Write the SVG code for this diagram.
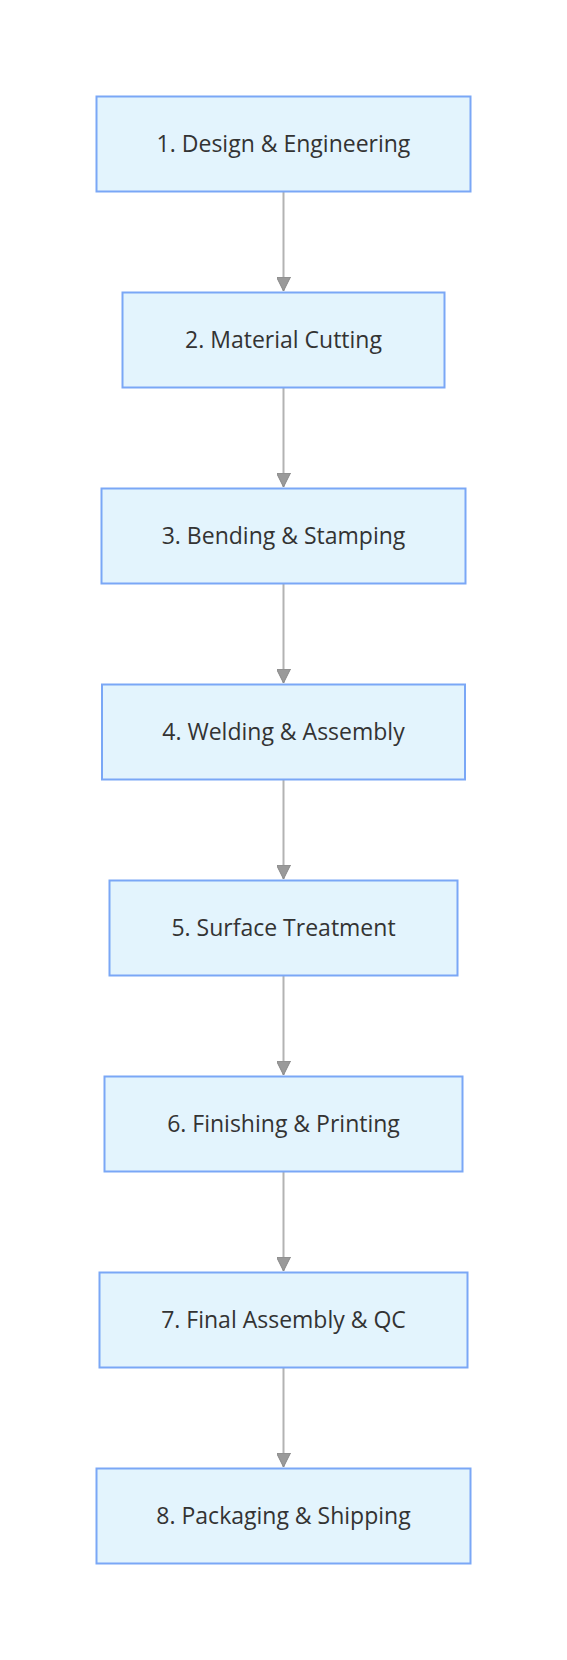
<svg xmlns="http://www.w3.org/2000/svg" width="567" height="1660" viewBox="0 0 567 1660">
<style>
.node rect{fill:#e3f4fd;stroke:#7aa7f6;stroke-width:2}
.node text{font-family:"Open Sans","Noto Sans","DejaVu Sans",sans-serif;font-size:23px;fill:#333333;text-anchor:middle}
.edge{stroke:#b3b3b3;stroke-width:2;fill:none}
</style>
<defs>
<marker id="arrow" viewBox="0 0 14 14" refX="14" refY="7" markerWidth="14" markerHeight="14" markerUnits="userSpaceOnUse" orient="auto">
<path d="M0,0 L14,7 L0,14 Z" fill="#9a9a9a" stroke="#888888" stroke-width="1"/>
</marker>
</defs>
<rect width="567" height="1660" fill="#ffffff"/>
<g id="connectors">
<line class="edge" x1="283.5" y1="192" x2="283.5" y2="291" marker-end="url(#arrow)"/>
<line class="edge" x1="283.5" y1="388" x2="283.5" y2="487" marker-end="url(#arrow)"/>
<line class="edge" x1="283.5" y1="584" x2="283.5" y2="683" marker-end="url(#arrow)"/>
<line class="edge" x1="283.5" y1="780" x2="283.5" y2="879" marker-end="url(#arrow)"/>
<line class="edge" x1="283.5" y1="976" x2="283.5" y2="1075" marker-end="url(#arrow)"/>
<line class="edge" x1="283.5" y1="1172" x2="283.5" y2="1271" marker-end="url(#arrow)"/>
<line class="edge" x1="283.5" y1="1368" x2="283.5" y2="1467" marker-end="url(#arrow)"/>
</g>
<g id="n1" class="node"><rect x="96.5" y="96.5" width="374" height="95"/><text x="283.5" y="152">1. Design &amp; Engineering</text></g>
<g id="n2" class="node"><rect x="122.5" y="292.5" width="322" height="95"/><text x="283.5" y="348">2. Material Cutting</text></g>
<g id="n3" class="node"><rect x="101.5" y="488.5" width="364" height="95"/><text x="283.5" y="544">3. Bending &amp; Stamping</text></g>
<g id="n4" class="node"><rect x="102" y="684.5" width="363" height="95"/><text x="283.5" y="740">4. Welding &amp; Assembly</text></g>
<g id="n5" class="node"><rect x="109.5" y="880.5" width="348" height="95"/><text x="283.5" y="936">5. Surface Treatment</text></g>
<g id="n6" class="node"><rect x="104.5" y="1076.5" width="358" height="95"/><text x="283.5" y="1132">6. Finishing &amp; Printing</text></g>
<g id="n7" class="node"><rect x="99.5" y="1272.5" width="368" height="95"/><text x="283.5" y="1328">7. Final Assembly &amp; QC</text></g>
<g id="n8" class="node"><rect x="96.5" y="1468.5" width="374" height="95"/><text x="283.5" y="1524">8. Packaging &amp; Shipping</text></g>
</svg>
